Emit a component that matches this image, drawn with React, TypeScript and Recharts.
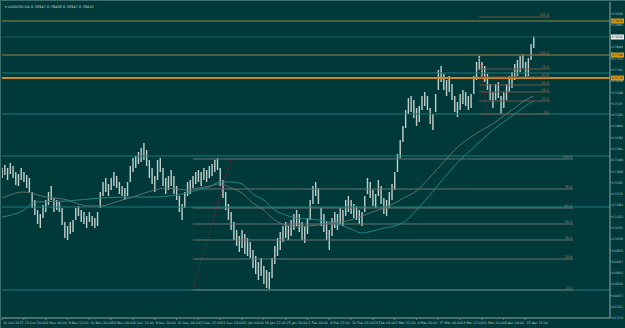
import { ComposedChart, Bar, Line, XAxis, YAxis, ReferenceLine } from 'recharts';

// AUDUSD H4, one point every ~2 H4 bars (8 points per date label)
const dateLabels = [
  '16 Oct 2015', '23 Oct 20:00', '2 Nov 04:00', '9 Nov 12:00', '16 Nov 20:00', '24 Nov 04:00',
  '1 Dec 12:00', '8 Dec 20:00', '16 Dec 04:00', '23 Dec 12:00', '31 Dec 20:00', '11 Jan 04:00',
  '18 Jan 12:00', '25 Jan 20:00', '2 Feb 04:00', '9 Feb 12:00', '16 Feb 20:00', '24 Feb 04:00',
  '2 Mar 12:00', '9 Mar 20:00', '17 Mar 04:00', '24 Mar 12:00', '31 Mar 20:00', '8 Apr 04:00',
  '15 Apr 12:00',
];

const barHigh = [
  0.7317, 0.7329, 0.7317, 0.7337, 0.7325, 0.7301, 0.7293, 0.7317, 0.7301, 0.7289,
  0.7277, 0.7221, 0.7189, 0.7149, 0.7133, 0.7169, 0.7189, 0.7221, 0.7245, 0.7197,
  0.7189, 0.7181, 0.7157, 0.7101, 0.7085, 0.7101, 0.7109, 0.7157, 0.7165, 0.7149,
  0.7141, 0.7125, 0.7141, 0.7125, 0.7117, 0.7141, 0.7221, 0.7261, 0.7277, 0.7253,
  0.7277, 0.7301, 0.7285, 0.7261, 0.7245, 0.7237, 0.7261, 0.7325, 0.7357, 0.7365,
  0.7381, 0.7397, 0.7417, 0.7389, 0.7349, 0.7317, 0.7285, 0.7349, 0.7357, 0.7317,
  0.7277, 0.7285, 0.7309, 0.7285, 0.7245, 0.7205, 0.7173, 0.7221, 0.7261, 0.7269,
  0.7285, 0.7301, 0.7309, 0.7301, 0.7317, 0.7309, 0.7325, 0.7333, 0.7349, 0.7357,
  0.7317, 0.7269, 0.7221, 0.7173, 0.7141, 0.7101, 0.7069, 0.7045, 0.7069, 0.7053,
  0.7037, 0.7021, 0.6989, 0.6965, 0.6941, 0.6957, 0.6925, 0.6909, 0.6901, 0.6957,
  0.7005, 0.7037, 0.7061, 0.7085, 0.7101, 0.7085, 0.7109, 0.7133, 0.7149, 0.7133,
  0.7101, 0.7085, 0.7117, 0.7189, 0.7245, 0.7261, 0.7237, 0.7157, 0.7133, 0.7101,
  0.7069, 0.7117, 0.7141, 0.7133, 0.7157, 0.7149, 0.7189, 0.7205, 0.7189, 0.7173,
  0.7165, 0.7149, 0.7141, 0.7205, 0.7277, 0.7261, 0.7229, 0.7213, 0.7269, 0.7245,
  0.7197, 0.7189, 0.7221, 0.7253, 0.7301, 0.7373, 0.7429, 0.7485, 0.7549, 0.7597,
  0.7605, 0.7589, 0.7557, 0.7565, 0.7605, 0.7621, 0.7605, 0.7557, 0.7533, 0.7613,
  0.7709, 0.7725, 0.7693, 0.7669, 0.7685, 0.7653, 0.7605, 0.7581, 0.7613, 0.7629,
  0.7621, 0.7605, 0.7613, 0.7685, 0.7741, 0.7769, 0.7741, 0.7725, 0.7693, 0.7653,
  0.7621, 0.7653, 0.7661, 0.7605, 0.7621, 0.7653, 0.7685, 0.7701, 0.7733, 0.7749,
  0.7765, 0.7773, 0.7741, 0.7757, 0.7813, 0.7845,
];

const barLow = [
  0.7277, 0.7289, 0.7269, 0.7293, 0.7277, 0.7249, 0.7245, 0.7269, 0.7261, 0.7237,
  0.7221, 0.7157, 0.7129, 0.7093, 0.7077, 0.7117, 0.7141, 0.7169, 0.7189, 0.7141,
  0.7149, 0.7141, 0.7089, 0.7037, 0.7029, 0.7053, 0.7061, 0.7109, 0.7125, 0.7101,
  0.7093, 0.7077, 0.7101, 0.7085, 0.7077, 0.7085, 0.7157, 0.7205, 0.7221, 0.7205,
  0.7229, 0.7245, 0.7237, 0.7213, 0.7205, 0.7189, 0.7205, 0.7261, 0.7301, 0.7317,
  0.7333, 0.7341, 0.7349, 0.7325, 0.7277, 0.7253, 0.7221, 0.7269, 0.7301, 0.7245,
  0.7213, 0.7229, 0.7245, 0.7213, 0.7189, 0.7141, 0.7109, 0.7157, 0.7205, 0.7213,
  0.7237, 0.7253, 0.7261, 0.7245, 0.7269, 0.7261, 0.7277, 0.7285, 0.7301, 0.7309,
  0.7245, 0.7197, 0.7149, 0.7109, 0.7069, 0.7029, 0.7005, 0.6981, 0.6997, 0.6973,
  0.6965, 0.6957, 0.6917, 0.6893, 0.6869, 0.6885, 0.6853, 0.6837, 0.6833, 0.6877,
  0.6933, 0.6965, 0.6989, 0.7021, 0.7037, 0.7029, 0.7045, 0.7069, 0.7085, 0.7061,
  0.7029, 0.7017, 0.7053, 0.7109, 0.7173, 0.7205, 0.7173, 0.7085, 0.7061, 0.7029,
  0.6989, 0.7045, 0.7077, 0.7069, 0.7093, 0.7085, 0.7125, 0.7141, 0.7133, 0.7117,
  0.7109, 0.7093, 0.7085, 0.7141, 0.7213, 0.7197, 0.7165, 0.7157, 0.7205, 0.7173,
  0.7133, 0.7125, 0.7157, 0.7189, 0.7229, 0.7301, 0.7357, 0.7421, 0.7477, 0.7533,
  0.7541, 0.7517, 0.7485, 0.7501, 0.7549, 0.7565, 0.7549, 0.7493, 0.7469, 0.7541,
  0.7629, 0.7661, 0.7629, 0.7605, 0.7621, 0.7589, 0.7541, 0.7521, 0.7549, 0.7573,
  0.7565, 0.7549, 0.7557, 0.7613, 0.7669, 0.7709, 0.7677, 0.7661, 0.7629, 0.7589,
  0.7557, 0.7589, 0.7597, 0.7533, 0.7557, 0.7589, 0.7621, 0.7637, 0.7669, 0.7685,
  0.7701, 0.7717, 0.7677, 0.7685, 0.7749, 0.7797,
];

// moving averages, sampled where they could be read
const fastMaIdx = [
  0, 8, 16, 24, 28, 32, 36, 44, 48, 56, 60, 64, 68, 72, 76, 80, 84, 88, 92, 96, 100, 104, 108,
  112, 116, 120, 124, 128, 132, 136, 140, 144, 148, 152, 156, 160, 164, 168, 172, 176, 180,
  184, 188, 192, 195,
];
const fastMa = [
  0.7197, 0.7221, 0.7201, 0.7189, 0.7173, 0.7165, 0.7165, 0.7189, 0.7201, 0.7229, 0.7237,
  0.7233, 0.7229, 0.7237, 0.7245, 0.7253, 0.7237, 0.7217, 0.7177, 0.7149, 0.7109, 0.7089,
  0.7081, 0.7085, 0.7089, 0.7097, 0.7101, 0.7109, 0.7125, 0.7141, 0.7157, 0.7177, 0.7201,
  0.7225, 0.7269, 0.7317, 0.7365, 0.7409, 0.7441, 0.7469, 0.7493, 0.7525, 0.7557, 0.7589,
  0.7605,
];
const slowMaIdx = [
  0, 8, 12, 24, 36, 48, 56, 64, 72, 76, 80, 84, 88, 92, 96, 100, 104, 108, 112, 116, 120, 124,
  128, 132, 136, 140, 144, 148, 152, 156, 160, 164, 168, 172, 176, 180, 184, 188, 192, 195,
];
const slowMa = [
  0.7121, 0.7149, 0.7181, 0.7185, 0.7197, 0.7201, 0.7201, 0.7209, 0.7229, 0.7241, 0.7261,
  0.7261, 0.7253, 0.7213, 0.7189, 0.7149, 0.7129, 0.7117, 0.7113, 0.7109, 0.7101, 0.7089,
  0.7073, 0.7057, 0.7065, 0.7077, 0.7085, 0.7105, 0.7149, 0.7197, 0.7249, 0.7301, 0.7349,
  0.7389, 0.7429, 0.7469, 0.7501, 0.7533, 0.7565, 0.7585,
];

const priceTicks = [
  0.6717, 0.67621, 0.68073, 0.68524, 0.68976, 0.69427, 0.69878, 0.7033, 0.70781, 0.71233,
  0.71684, 0.72135, 0.72587, 0.73038, 0.7349, 0.73941, 0.74392, 0.74844, 0.75295, 0.75747,
  0.76198, 0.76649, 0.77101, 0.77552, 0.78004, 0.78455, 0.78906, 0.79358,
];

const tealLevels = [0.7697, 0.7533, 0.7365, 0.7161, 0.6829];
const oliveLevels = [0.7905, 0.7769];
const orangeLevel = 0.7677;
const bidPrice = 0.7841;

const fibBigNames = ['100.0', '76.4', '61.8', '50.0', '38.2', '23.6', '0.0'];
const fibBigPrices = [0.7353, 0.7233, 0.7157, 0.7093, 0.7029, 0.6953, 0.6829];
const fibBigSpan = [70, 209.5];
const fibBigTrend = [[70, 0.6829], [84, 0.7353]];

const fibSmallNames = ['161.8', '100.0', '76.4', '61.8', '50.0', '38.2', '23.6', '0.0'];
const fibSmallPrices = [0.7921, 0.7769, 0.7713, 0.7681, 0.7649, 0.7621, 0.7585, 0.7533];
const fibSmallSpan = [175, 201];
const fibSmallTrend = [[175, 0.7769], [178, 0.7529]];

const BG = '#00393a';
const FONT = 'DejaVu Sans, sans-serif';
const TXT = '#b9c9c5';

function FibLabel(props: any) {
  const { viewBox, text, color } = props;
  if (!viewBox) return null;
  return (
    <text
      x={viewBox.x + viewBox.width - 1}
      y={viewBox.y - 1}
      textAnchor="end"
      fontSize={3.4}
      fontFamily={FONT}
      fill={color}
    >
      {text}
    </text>
  );
}

function PriceBox(props: any) {
  const { viewBox, text, fill, color } = props;
  if (!viewBox) return null;
  const x = viewBox.x + viewBox.width;
  return (
    <g>
      <rect x={x + 1} y={viewBox.y - 2.5} width={13} height={5} fill={fill} />
      <text
        x={x + 1.8}
        y={viewBox.y + 1.2}
        fontSize={3.2}
        fontFamily={FONT}
        fill={color}
        textLength={11}
        lengthAdjust="spacingAndGlyphs"
      >
        {text}
      </text>
    </g>
  );
}

function DateTick(props: any) {
  const { x, y, payload } = props;
  const label = dateLabels[Math.round(payload.value / 8)];
  return (
    <g>
      <line x1={x} x2={x} y1={y} y2={y + 2} stroke="#8fa8a4" strokeWidth={0.6} />
      <text x={x + 1} y={y + 6} fontSize={3.3} fontFamily={FONT} fill={TXT}>
        {label}
      </text>
    </g>
  );
}

function PriceTick(props: any) {
  const { x, y, payload } = props;
  return (
    <text
      x={x}
      y={y + 1.2}
      fontSize={3.2}
      fontFamily={FONT}
      fill={TXT}
      textLength={11}
      lengthAdjust="spacingAndGlyphs"
    >
      {Number(payload.value).toFixed(5)}
    </text>
  );
}

function HighLowBar(props: any) {
  const { x, y, width, height } = props;
  const cx = x + width / 2;
  return <line x1={cx} x2={cx} y1={y} y2={y + height} stroke="#c3d0cc" strokeWidth={1.4} />;
}

export default function App() {
  const bars = barHigh.map((h, i) => ({ i, range: [barLow[i], h] }));
  const fast = fastMaIdx.map((i, k) => ({ i, v: fastMa[k] }));
  const slow = slowMaIdx.map((i, k) => ({ i, v: slowMa[k] }));
  const dateTicks = dateLabels.map((_, k) => k * 8);

  return (
    <div
      style={{
        position: 'absolute',
        left: 0,
        top: 0,
        width: 625,
        height: 328,
        background: BG,
        borderTop: '1px solid #3d6f6d',
        borderLeft: '1px solid #3d6f6d',
        boxSizing: 'border-box',
        overflow: 'hidden',
      }}
    >
      <div
        style={{
          position: 'absolute',
          left: 4,
          top: 4,
          fontSize: 3.6,
          lineHeight: '4px',
          fontFamily: FONT,
          color: '#c6d6d2',
          whiteSpace: 'nowrap',
        }}
      >
        ▾ AUDUSD,H4 0.78347 0.78458 0.78347 0.78410
      </div>
      <ComposedChart
        width={624}
        height={327}
        data={bars}
        margin={{ top: 1, right: 0, bottom: 0, left: 1 }}
      >
        <XAxis
          dataKey="i"
          type="number"
          domain={[0, 223]}
          ticks={dateTicks}
          height={10}
          tickSize={0}
          tickMargin={0}
          tick={<DateTick />}
          interval={0}
          axisLine={{ stroke: '#8fa8a4', strokeWidth: 1 }}
          tickLine={false}
          allowDataOverflow
        />
        <YAxis
          orientation="right"
          domain={[0.6717, 0.7981]}
          ticks={priceTicks}
          interval={0}
          width={15}
          tickSize={1.5}
          tickMargin={0.5}
          tick={<PriceTick />}
          axisLine={{ stroke: '#8fa8a4', strokeWidth: 1 }}
          tickLine={{ stroke: '#8fa8a4', strokeWidth: 0.6 }}
          allowDataOverflow
        />

        {tealLevels.map((p) => (
          <ReferenceLine key={'t' + p} y={p} stroke="#1d7b78" strokeWidth={1} />
        ))}
        {oliveLevels.map((p) => (
          <ReferenceLine
            key={'o' + p}
            y={p}
            stroke="#8c8a3c"
            strokeWidth={1}
            label={<PriceBox text={p.toFixed(5)} fill="#d89a10" color="#1a1a1a" />}
          />
        ))}
        <ReferenceLine
          y={orangeLevel}
          stroke="#d08a18"
          strokeWidth={2}
          label={<PriceBox text={orangeLevel.toFixed(5)} fill="#d89a10" color="#1a1a1a" />}
        />
        <ReferenceLine
          y={bidPrice}
          stroke="#2f5857"
          strokeWidth={1}
          label={<PriceBox text={bidPrice.toFixed(5)} fill="#e8efee" color="#1a1a1a" />}
        />

        {fibBigPrices.map((p, k) => (
          <ReferenceLine
            key={'fb' + k}
            segment={[
              { x: fibBigSpan[0], y: p },
              { x: fibBigSpan[1], y: p },
            ]}
            stroke="#6d7471"
            strokeWidth={1}
            label={<FibLabel text={fibBigNames[k]} color="#8d9491" />}
          />
        ))}
        {fibSmallPrices.map((p, k) => (
          <ReferenceLine
            key={'fs' + k}
            segment={[
              { x: fibSmallSpan[0], y: p },
              { x: fibSmallSpan[1], y: p },
            ]}
            stroke="#6f5a48"
            strokeWidth={1}
            label={<FibLabel text={fibSmallNames[k]} color="#a3764f" />}
          />
        ))}
        <ReferenceLine
          segment={[
            { x: fibBigTrend[0][0], y: fibBigTrend[0][1] },
            { x: fibBigTrend[1][0], y: fibBigTrend[1][1] },
          ]}
          stroke="#b0201c"
          strokeDasharray="1 2"
        />
        <ReferenceLine
          segment={[
            { x: fibSmallTrend[0][0], y: fibSmallTrend[0][1] },
            { x: fibSmallTrend[1][0], y: fibSmallTrend[1][1] },
          ]}
          stroke="#b0201c"
          strokeDasharray="1 2"
        />

        <Bar
          dataKey="range"
          fill="#c3d0cc"
          barSize={1}
          shape={<HighLowBar />}
          isAnimationActive={false}
        />
        <Line
          data={slow}
          dataKey="v"
          type="monotone"
          stroke="#1f8784"
          strokeWidth={1}
          dot={false}
          isAnimationActive={false}
        />
        <Line
          data={fast}
          dataKey="v"
          type="monotone"
          stroke="#5f716d"
          strokeWidth={1}
          dot={false}
          isAnimationActive={false}
        />
      </ComposedChart>
    </div>
  );
}
